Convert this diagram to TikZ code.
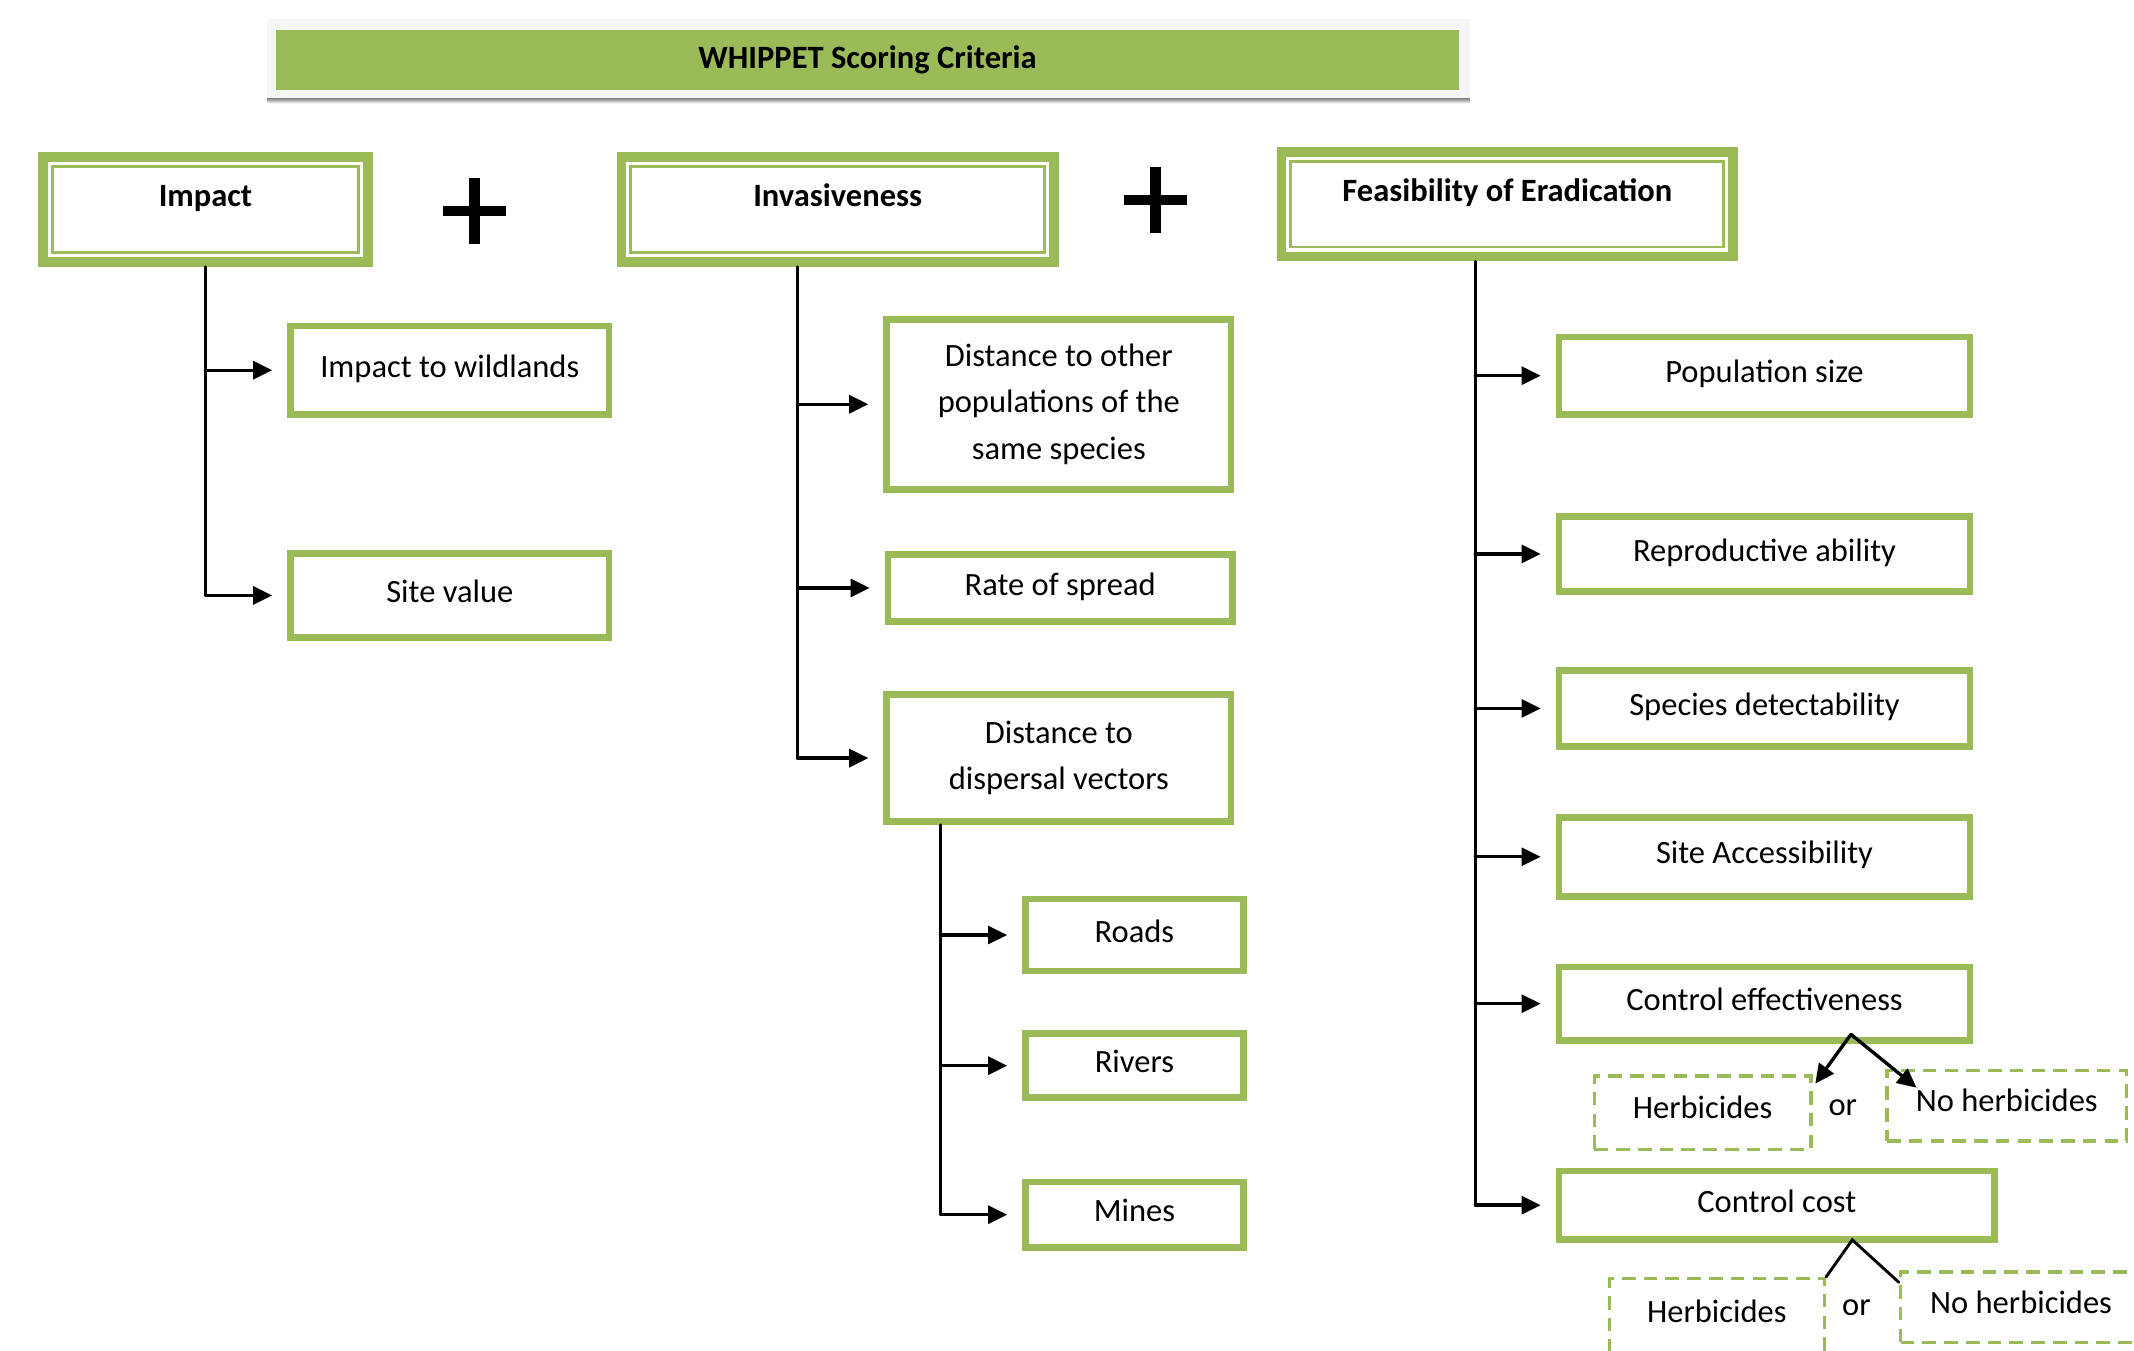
\documentclass[tikz,border=0pt]{standalone}
\usepackage{fontspec}
\setmainfont{Carlito}
\usetikzlibrary{arrows.meta}
\definecolor{leaf}{HTML}{9BBB59}
\definecolor{shade}{HTML}{A7AE98}
\begin{document}
\begin{tikzpicture}[x=0.02cm,y=-0.02cm,line cap=round,>={Triangle[length=8pt,width=7.5pt]},
 sz/.style 2 args={minimum width=#1*0.02cm,minimum height=#2*0.02cm},
 head/.style={draw=leaf,line width=4pt,fill=white,inner sep=0pt,font=\fontsize{13.6}{16}\selectfont\bfseries,text height=10pt,text depth=12.5pt},
 item/.style={draw=leaf,line width=2.8pt,fill=white,inner sep=0pt,font=\fontsize{13.6}{19.3}\selectfont,text height=9pt,text depth=3pt},
 multi/.style={draw=leaf,line width=2.8pt,fill=white,inner sep=0pt,font=\fontsize{13.6}{19.3}\selectfont,align=center},
 opt/.style={draw=leaf,line width=1.5pt,dash pattern=on 5.7pt off 3.4pt,line cap=butt,inner sep=0pt,font=\fontsize{13.6}{19.3}\selectfont,text height=9pt,text depth=4pt},
 link/.style={line width=1.2pt},
 arr/.style={line width=1.4pt,->,shorten >=0.22cm}]
 \useasboundingbox (0,0) rectangle (1568,992);
 \clip (0,0) rectangle (1568,992);
 % title bar
 \fill[gray!7] (196,14) rectangle (1080,76);
 \fill[shade] (196,72) rectangle (1080,76);
 \node[fill=leaf,sz={869}{44},inner sep=0pt,font=\fontsize{13.6}{16}\selectfont\bfseries] (title) at (637.5,44) {WHIPPET Scoring Criteria};
 % main criteria
 \node[head,sz={239}{77}] (imp) at (151,154) {Impact};
 \node[head,sz={318}{77}] (inv) at (615.5,154) {Invasiveness};
 \node[head,sz={332}{77}] (feas) at (1107.5,150) {Feasibility of Eradication};
 \foreach \n in {imp,inv,feas}
 \draw[leaf,line width=1.2pt] ([shift={(10.5,10.5)}]\n.north west) rectangle ([shift={(-10.5,-10.5)}]\n.south east);
 \foreach \x/\y in {348.5/155,849/147}
 \draw[line width=4.5pt,line cap=butt] (\x-23,\y) -- (\x+23,\y) (\x,\y-24) -- (\x,\y+24);
 % impact
 \node[item,sz={234}{65}] (wild) at (330.5,272) {Impact to wildlands};
 \node[item,sz={234}{62}] (site) at (330.5,437.5) {Site value};
 \draw[link] (imp.south) -- (imp.south |- site.west);
 \foreach \c in {wild,site}
 \draw[arr] (imp.south |- \c.west) -- (\c.west);
 % invasiveness
 \node[multi,sz={253}{125}] (dist) at (778,297) {Distance to other\\populations of the\\same species};
 \node[item,sz={253}{49}] (rate) at (779,432) {Rate of spread};
 \node[multi,sz={253}{93}] (disp) at (778,557) {Distance to\\dispersal vectors};
 \coordinate (invtop) at (586,196);
 \draw[link] (invtop) -- (invtop |- disp.west);
 \foreach \c in {dist,rate,disp}
 \draw[arr] (invtop |- \c.west) -- (\c.west);
 \node[item,sz={160}{53}] (roads) at (833.5,687) {Roads};
 \node[item,sz={160}{47}] (rivers) at (833.5,783) {Rivers};
 \node[item,sz={160}{48}] (mines) at (833.5,892.5) {Mines};
 \coordinate (subtop) at (691,606);
 \draw[link] (subtop) -- (subtop |- mines.west);
 \foreach \c in {roads,rivers,mines}
 \draw[arr] (subtop |- \c.west) -- (\c.west);
 % feasibility
 \node[item,sz={302}{57}] (pop) at (1296.5,276) {Population size};
 \node[item,sz={302}{55}] (repro) at (1296.5,407) {Reproductive ability};
 \node[item,sz={302}{56}] (detect) at (1296.5,520.5) {Species detectability};
 \node[item,sz={302}{58}] (access) at (1296.5,629.5) {Site Accessibility};
 \node[item,sz={302}{54}] (ceff) at (1296.5,737.5) {Control effectiveness};
 \node[item,sz={320}{50}] (ccost) at (1305.5,885.5) {Control cost};
 \coordinate (feastop) at (1084,192);
 \draw[link] (feastop) -- (feastop |- ccost.west);
 \foreach \c in {pop,repro,detect,access,ceff,ccost}
 \draw[arr] (feastop |- \c.west) -- (\c.west);
 % herbicide options
 \node[opt,sz={159}{54}] (herb1) at (1251,817.5) {Herbicides};
 \node[opt,sz={176}{52}] (nohe1) at (1474.5,812.5) {No herbicides};
 \node[font=\fontsize{13.6}{16}\selectfont] (or1) at (1354,814) {or};
 \node[opt,sz={158}{55}] (herb2) at (1261.5,967) {Herbicides};
 \node[opt,sz={177}{52}] (nohe2) at (1485,960.5) {No herbicides};
 \node[font=\fontsize{13.6}{16}\selectfont] (or2) at (1364,961) {or};
 \coordinate (ceffsplit) at (1360,760);
 \coordinate (ccostsplit) at (1361,911);
 \draw[line width=1.4pt,->] (ceffsplit) -- ([shift={(2,7)}]herb1.north east);
 \draw[line width=1.4pt,->] (ceffsplit) -- ([shift={(23,14)}]nohe1.north west);
 \draw[link] (herb2.north east) -- (ccostsplit) -- ([shift={(0,9)}]nohe2.north west);
\end{tikzpicture}
\end{document}
